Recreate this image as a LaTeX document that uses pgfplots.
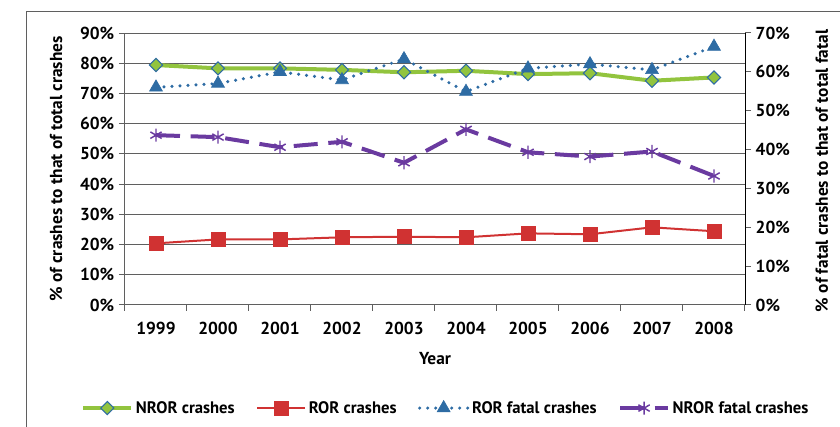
\documentclass[border=0pt]{standalone}
\usepackage{fontspec}
\setmainfont{PT Sans}
\usepackage{pgfplots}
\pgfplotsset{compat=1.18}
\definecolor{cgreen}{RGB}{146,196,62}
\definecolor{cred}{RGB}{208,50,50}
\definecolor{cblue}{RGB}{46,108,164}
\definecolor{cpurple}{RGB}{106,58,160}
\definecolor{cgrid}{RGB}{95,95,95}
\newcommand{\tfont}{\fontsize{13}{15}\selectfont\bfseries}
\begin{document}
\begin{tikzpicture}
\useasboundingbox (0,0) rectangle (630pt,320.25pt);
\draw[cgrid, line width=0.75pt] (19.5pt,-5pt) -- (19.5pt,311.25pt) -- (640pt,311.25pt);
\begin{axis}[
  at={(93.75pt,91.5pt)}, anchor=south west,
  scale only axis, width=465pt, height=204pt,
  xmin=-0.5, xmax=9.5, ymin=0, ymax=90,
  axis x line*=bottom, axis y line*=left,
  axis line style={-, cgrid, line width=0.75pt},
  tick align=outside,
  major tick length=4.5pt, minor tick length=4.5pt,
  xtick={0,...,9},
  xticklabels={1999,2000,2001,2002,2003,2004,2005,2006,2007,2008},
  major x tick style={draw=none},
  minor xtick={-0.5,0.5,...,9.5},
  minor x tick style={cgrid, line width=0.75pt},
  ytick={0,10,...,90},
  yticklabels={0\%,10\%,20\%,30\%,40\%,50\%,60\%,70\%,80\%,90\%},
  major y tick style={cgrid, line width=0.75pt},
  ymajorgrids, major grid style={cgrid, line width=0.75pt},
  ticklabel style={font=\tfont},
  xticklabel style={yshift=-4.5pt},
  xlabel={Year},
  xlabel style={font=\tfont, at={(axis description cs:0.5,0)}, anchor=center, yshift=-40.5pt},
  ylabel={\% of crashes to that of total crashes},
  ylabel style={font=\tfont, at={(axis description cs:-0.1113,0.5)}, rotate=0, anchor=center},
  legend columns=4,
  legend style={draw=none, fill=none, font=\fontsize{12.5}{14}\selectfont\bfseries,
    at={(axis description cs:0.518,-0.379)}, anchor=center,
    /tikz/every even column/.append style={column sep=14pt}},
  legend image code/.code={\draw[mark repeat=2,mark phase=2] plot coordinates {(0pt,0pt)(18pt,0pt)(36pt,0pt)};},
]
\addplot[cgreen, line width=3pt, mark=square*, mark size=3.5pt,
  mark options={rotate=45, fill=cgreen, draw=cblue, line width=0.8pt}]
  coordinates {(0,79.4)(1,78.3)(2,78.3)(3,77.8)(4,77.0)(5,77.5)(6,76.4)(7,76.7)(8,74.2)(9,75.3)};
\addlegendentry{NROR crashes}
\addplot[cred, line width=1.5pt, mark=square*, mark size=5.2pt,
  mark options={fill=cred, draw=cred, line width=0.5pt}]
  coordinates {(0,20.4)(1,21.7)(2,21.7)(3,22.4)(4,22.6)(5,22.4)(6,23.7)(7,23.4)(8,25.7)(9,24.4)};
\addlegendentry{ROR crashes}
\addlegendimage{cblue, line width=2.6pt, line cap=round, dash pattern=on 0pt off 6pt,
  mark=triangle*, mark size=5.6pt, mark options={solid, fill=cblue, draw=cblue, line width=0.5pt}}
\addlegendentry{ROR fatal crashes}
\addlegendimage{cpurple, line width=3pt, dash pattern=on 18pt off 8pt,
  mark=asterisk, mark size=4.9pt, mark options={solid, cpurple, line width=1.1pt}}
\addlegendentry{NROR fatal crashes}
\end{axis}
\begin{axis}[
  at={(93.75pt,91.5pt)}, anchor=south west,
  scale only axis, width=465pt, height=204pt,
  xmin=-0.5, xmax=9.5, ymin=0, ymax=70,
  axis x line=none, axis y line*=right,
  axis line style={-, black, line width=0.75pt},
  tick align=outside, major tick length=4.5pt,
  ytick={0,10,...,70},
  yticklabels={0\%,10\%,20\%,30\%,40\%,50\%,60\%,70\%},
  major y tick style={cgrid, line width=0.75pt},
  ticklabel style={font=\tfont},
  ylabel={\% of fatal crashes to that of total fatal},
  ylabel style={font=\tfont, at={(axis description cs:1.124,0.493)}, rotate=0, anchor=center},
]
\addplot[cblue, line width=2.6pt, line cap=round, dash pattern=on 0pt off 6pt,
  mark=triangle*, mark size=5.6pt, mark options={solid, fill=cblue, draw=cblue, line width=0.5pt}]
  coordinates {(0,56.0)(1,57.0)(2,60.0)(3,57.9)(4,63.3)(5,54.9)(6,60.9)(7,62.0)(8,60.5)(9,66.5)};
\addplot[cpurple, line width=3pt, dash pattern=on 18pt off 8pt,
  mark=asterisk, mark size=4.9pt, mark options={solid, cpurple, line width=1.1pt}]
  coordinates {(0,43.7)(1,43.2)(2,40.6)(3,42.0)(4,36.6)(5,45.2)(6,39.3)(7,38.2)(8,39.5)(9,33.2)};
\end{axis}
\end{tikzpicture}
\end{document}
